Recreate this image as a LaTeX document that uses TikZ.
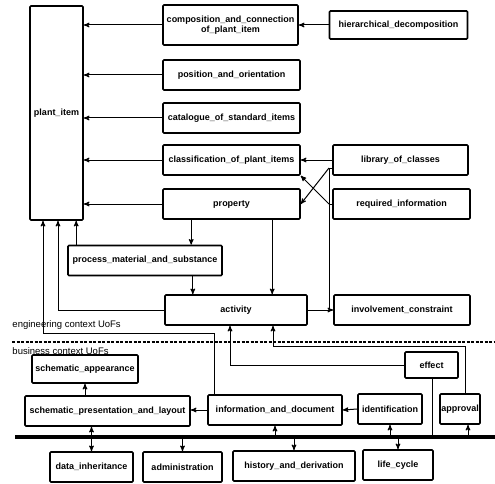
\documentclass[tikz,border=0pt]{standalone}
\usepackage{fontspec}
\setsansfont{Liberation Sans}
\usetikzlibrary{positioning,arrows}

\begin{document}
\begin{tikzpicture}[x=1pt,y=-1pt]
\useasboundingbox (0,0) rectangle (495,484);
% Draw UoF Model
   \begin{scope}[ node distance=43pt,on grid,>=stealth',line width=1pt,
                   block/.style={rectangle,draw,line width=1.6pt,rounded corners=1pt,
                                 inner sep=1pt,minimum height=30pt,
                                 font=\sffamily\bfseries\fontsize{9}{9.5}\selectfont},
                   ctx/.style={font=\sffamily\fontsize{9.5}{10}\selectfont,inner sep=0pt,anchor=west} ]
     \node [block,minimum width=53pt,minimum height=214pt] (plant) at (56.5,113) {plant\_item};
     \node [block,minimum width=135pt,minimum height=40pt,align=center] (comp) at (230.5,25)
           {composition\_and\_connection\\of\_plant\_item};
     \node [block,minimum width=137pt] (pos)  [below=50pt of comp,xshift=1pt] {position\_and\_orientation};
     \node [block,minimum width=137pt] (cat)  [below=of pos]           {catalogue\_of\_standard\_items};
     \node [block,minimum width=137pt] (cls)  [below=42pt of cat]      {classification\_of\_plant\_items};
     \node [block,minimum width=137pt] (prop) [below=44pt of cls]      {property};
     \node [block,minimum width=138pt,minimum height=28pt] (hier) [right=168pt of comp] {hierarchical\_decomposition};
     \node [block,minimum width=135pt] (lib)  [right=169pt of cls]     {library\_of\_classes};
     \node [block,minimum width=137pt] (req)  [right=170pt of prop]    {required\_information};
     \node [block,minimum width=154pt] (proc) at (145,260.5)           {process\_material\_and\_substance};
     \node [block,minimum width=142pt] (act)  at (236,310)             {activity};
     \node [block,minimum width=136pt] (inv)  [right=166pt of act]     {involvement\_constraint};
     % business context
     \node [block,minimum width=106pt,minimum height=28pt] (app)  at (85,369)   {schematic\_appearance};
     \node [block,minimum width=165pt] (pres) at (107.5,411)           {schematic\_presentation\_and\_layout};
     \node [block,minimum width=134pt] (info) at (275,410)             {information\_and\_document};
     \node [block,minimum width=64pt]  (ident) at (390,409)            {identification};
     \node [block,minimum width=40pt]  (appr) at (460,409)             {approval};
     \node [block,minimum width=53pt,minimum height=26pt] (eff) at (431.5,365) {effect};
     \node [block,minimum width=83pt]  (data)  at (91.5,467)           {data\_inheritance};
     \node [block,minimum width=79pt]  (admin) at (182.5,467)          {administration};
     \node [block,minimum width=122pt] (hist)  at (294,466)            {history\_and\_derivation};
     \node [block,minimum width=70pt]  (life)  at (398,465)            {life\_cycle};
     \node [ctx] (englab) at (12,325) {engineering context UoFs};
     \node [ctx] (buslab) at (12,351) {business context UoFs};
     \coordinate (dashw) at (12,342);
     \coordinate (dashe) at (495,342);
     \coordinate (busw) at (15,437);
     \coordinate (buse) at (495,437);
     \coordinate (xt) at (329,168);
     \coordinate (xb) at (329,204);
     \coordinate (eng) at (43,333);
     \coordinate (apr) at (273,346);
     % links to plant_item
     \draw [->] (comp.west) -- (comp.west -| plant.east);
     \draw [->] (pos.west) -- (pos.west -| plant.east);
     \draw [->] (cat.west) -- (cat.west -| plant.east);
     \draw [->] (cls.west) -- (cls.west -| plant.east);
     \draw [->] (prop.west) -- (prop.west -| plant.east);
     \draw [->] (hier.west) -- (hier.west -| comp.east);
     \draw [->] (lib.west) -- (cls.east);
     \draw [->] (xt) -- (prop.east);
     \draw [->] (xb) -- (cls.south east);
     \draw (xt) -- (xt -| lib.west);
     \draw (xb) -- (req.west);
     \draw (xt) |- (act.east);
     \draw [->] (act.east) -- (inv.west);
     \draw [->] ([xshift=29pt]prop.south west) -- ([xshift=29pt]prop.south west |- proc.north);
     \draw [->] ([xshift=110pt]prop.south west) -- ([xshift=110pt]prop.south west |- act.north);
     \draw [->] ([xshift=-30pt]proc.south east) -- ([xshift=-30pt]proc.south east |- act.north);
     \draw [->] ([xshift=9pt]proc.north west) -- ([xshift=9pt]proc.north west |- plant.south);
     \draw [->] (act.west) -| ([xshift=1.5pt]plant.south);
     \draw [->] ([xshift=7pt]info.north west) |- (eng) -- (eng |- plant.south);
     \draw [->] (eff.west) -| ([xshift=-6pt]act.south);
     \draw [->] ([xshift=5pt]appr.north) |- (apr) -- (apr |- act.south);
     % context border and bus
     \draw [line width=2pt,dash pattern=on 3pt off 1.5pt] (dashw) -- (dashe);
     \draw [line width=3.5pt] (busw) -- (buse);
     \draw [->] (pres.north -| app.south) -- (app.south);
     \draw [->] (info.west) -- (info.west -| pres.east);
     \draw [->] (ident.west) -- (info.east);
     \draw [->] (data.north |- busw) -- (data.north |- pres.south);
     \draw [->] (info.south |- busw) -- (info.south);
     \draw [->] (ident.south |- busw) -- (ident.south);
     \draw ([xshift=1pt]eff.south) -- ([xshift=1pt]eff.south |- busw);
     \draw [->] ([xshift=8pt]appr.south |- busw) -- ([xshift=8pt]appr.south);
     \draw [->] (data.north |- busw) -- (data.north);
     \draw [->] (admin.north |- busw) -- (admin.north);
     \draw [->] (hist.north |- busw) -- (hist.north);
     \draw [->] (life.north |- busw) -- (life.north);
   \end{scope}
\end{tikzpicture}
\end{document}
